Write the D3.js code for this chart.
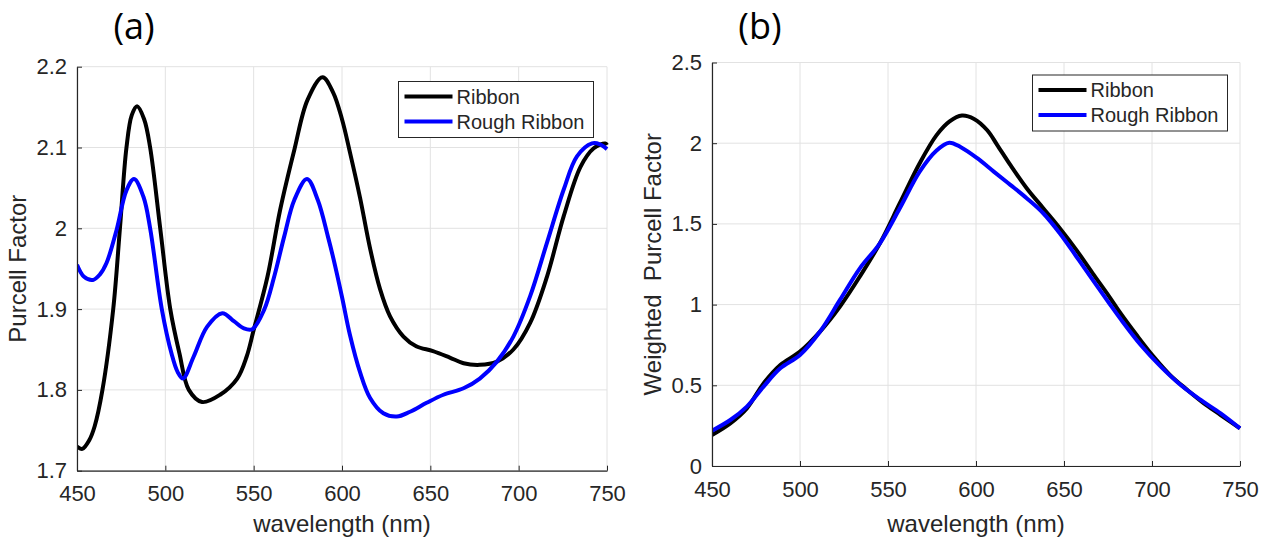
<!DOCTYPE html>
<html>
<head>
<meta charset="utf-8">
<script src="https://cdn.jsdelivr.net/npm/d3@7"></script>
<style>
  body { margin: 0; background: #fff; }
  svg { display: block; }
</style>
</head>
<body>
<svg id="chart" width="1268" height="540"></svg>
<script>
// panel (a): Purcell factor
const wlRibbonA = [450, 453, 457, 460, 464.4, 470.5, 474.3, 478, 481, 484, 488, 491.4, 497.1, 502.8, 508, 513.3,
  520.8, 531, 540.7, 546, 550, 557.8, 565, 573, 580.5, 589, 595, 600, 604.5, 610.2, 615.9, 621.5, 627.2,
  634.8, 642, 651.5, 661, 668.8, 678, 687.7, 697, 706.5, 716, 725.5, 735, 742.5, 749, 750];
const ribbonA = [1.730, 1.727, 1.738, 1.755, 1.800, 1.900, 2.000, 2.100, 2.140, 2.151, 2.135, 2.100, 2.000, 1.900, 1.845, 1.800,
  1.785, 1.794, 1.814, 1.841, 1.874, 1.940, 2.023, 2.097, 2.159, 2.187, 2.168, 2.135, 2.094, 2.038, 1.975, 1.925, 1.891,
  1.866, 1.854, 1.848, 1.840, 1.833, 1.831, 1.835, 1.850, 1.883, 1.940, 2.015, 2.076, 2.099, 2.105, 2.103];

const wlRoughA = [450, 454, 459, 463, 466.7, 472.4, 478, 482.3, 487.6, 491.4, 498, 503.5, 507, 510, 516, 523.6,
  532.2, 538.8, 544.5, 549.2, 555.9, 561.6, 567.3, 573, 580.2, 586.3, 592, 595.2, 600, 604.5, 610.2, 615.9,
  623.4, 631, 638.5, 647.9, 657.4, 668.8, 678, 687.7, 697, 706.5, 716, 725.5, 733, 741.5, 746, 750];
const roughA = [1.955, 1.940, 1.936, 1.943, 1.957, 1.998, 2.047, 2.061, 2.039, 2.000, 1.900, 1.845, 1.822, 1.814, 1.841, 1.878,
  1.895, 1.885, 1.876, 1.875, 1.899, 1.940, 1.990, 2.035, 2.061, 2.035, 1.990, 1.962, 1.915, 1.868, 1.822, 1.790,
  1.771, 1.767, 1.773, 1.784, 1.794, 1.802, 1.814, 1.835, 1.866, 1.916, 1.982, 2.048, 2.089, 2.105, 2.104, 2.098];

// panel (b): weighted Purcell factor
const wlRibbonB = [450, 460.4, 469.8, 479.3, 488.8, 500, 511.4, 522.7, 534, 545.4, 556.7, 568, 577.6, 585, 592,
  598.9, 606.4, 612, 619.5, 628.8, 638.2, 647.6, 657, 666.3, 675.7, 682.2, 691.7, 701.1, 710.6, 720.1, 729.5, 739, 750];
const ribbonB = [0.192, 0.264, 0.357, 0.512, 0.626, 0.709, 0.833, 0.988, 1.174, 1.380, 1.628, 1.876, 2.050, 2.135, 2.171,
  2.150, 2.080, 1.990, 1.865, 1.721, 1.597, 1.473, 1.339, 1.194, 1.050, 0.945, 0.805, 0.675, 0.560, 0.471, 0.388, 0.316, 0.233];

const wlRoughB = [450, 460.4, 469.8, 479.3, 488.8, 500, 511.4, 522.7, 534, 545.4, 556.7, 568, 577.6, 584.8, 591.4,
  600.7, 610.1, 619.5, 628.8, 638.2, 647.6, 657, 666.3, 675.7, 682.2, 693.6, 705, 716.3, 727.7, 739, 750];
const roughB = [0.219, 0.285, 0.368, 0.492, 0.605, 0.688, 0.833, 1.029, 1.225, 1.380, 1.597, 1.824, 1.955, 2.003, 1.975,
  1.907, 1.824, 1.742, 1.659, 1.566, 1.442, 1.298, 1.153, 1.008, 0.910, 0.750, 0.616, 0.502, 0.409, 0.326, 0.233];

const xTicks = [450, 500, 550, 600, 650, 700, 750];
const yTicksA = [1.7, 1.8, 1.9, 2.0, 2.1, 2.2];
const yTicksB = [0, 0.5, 1, 1.5, 2, 2.5];
const seriesNames = ["Ribbon", "Rough Ribbon"];
const seriesColors = ["#000000", "#0000ff"];

const svg = d3.select("#chart");
const textColor = "#262626";
const gridColor = "#e2e2e2";
const fmt = d3.format("~g");

function drawPanel(cfg) {
  const { left, right, top, bottom } = cfg.box;
  const x = d3.scaleLinear().domain([450, 750]).range([left, right]);
  const y = d3.scaleLinear().domain(cfg.yDomain).range([bottom, top]);
  const g = svg.append("g");

  // grid
  g.append("g").selectAll("line").data(xTicks).join("line")
    .attr("x1", d => x(d)).attr("x2", d => x(d))
    .attr("y1", top).attr("y2", bottom)
    .attr("stroke", gridColor).attr("stroke-width", 1);
  g.append("g").selectAll("line").data(cfg.yTicks).join("line")
    .attr("y1", d => y(d)).attr("y2", d => y(d))
    .attr("x1", left).attr("x2", right)
    .attr("stroke", gridColor).attr("stroke-width", 1);

  // curves
  const clipId = "clip-" + cfg.id;
  svg.append("clipPath").attr("id", clipId).append("rect")
    .attr("x", left).attr("y", top - 3).attr("width", right - left + 3).attr("height", bottom - top + 3);
  const line = d3.line().x(d => x(d[0])).y(d => y(d[1])).curve(d3.curveCatmullRom.alpha(0.5));
  cfg.series.forEach((s, i) => {
    g.append("path")
      .datum(s.wl.map((w, k) => [w, s.v[k]]))
      .attr("clip-path", `url(#${clipId})`)
      .attr("fill", "none")
      .attr("stroke", seriesColors[i])
      .attr("stroke-width", 4)
      .attr("stroke-linejoin", "round")
      .attr("d", line);
  });

  // axes
  const xAxis = g.append("g").attr("transform", `translate(0,${bottom})`)
    .call(d3.axisBottom(x).tickValues(xTicks).tickFormat(fmt).tickSizeInner(-5).tickSizeOuter(0).tickPadding(15));
  const yAxis = g.append("g").attr("transform", `translate(${left},0)`)
    .call(d3.axisLeft(y).tickValues(cfg.yTicks).tickFormat(fmt).tickSizeInner(-5).tickSizeOuter(0).tickPadding(10));
  [xAxis, yAxis].forEach(a => {
    a.attr("font-family", "'Liberation Sans', Arial, sans-serif").attr("font-size", 22);
    a.select(".domain").attr("stroke", textColor).attr("stroke-width", 1.2);
    a.selectAll(".tick line").attr("stroke", textColor);
    a.selectAll(".tick text").attr("fill", textColor);
  });

  // axis labels
  g.append("text")
    .attr("x", (left + right) / 2).attr("y", 532)
    .attr("text-anchor", "middle")
    .attr("font-family", "'Liberation Sans', Arial, sans-serif").attr("font-size", 24)
    .attr("fill", textColor)
    .text("wavelength (nm)");
  g.append("text")
    .attr("transform", `translate(${cfg.yLabelX},${(top + bottom) / 2}) rotate(-90)`)
    .attr("dy", "0.35em")
    .attr("text-anchor", "middle")
    .attr("font-family", "'Liberation Sans', Arial, sans-serif").attr("font-size", 24)
    .attr("fill", textColor)
    .style("white-space", "pre")
    .text(cfg.yLabel);

  // panel letter
  g.append("text")
    .attr("x", cfg.titleX).attr("y", 39)
    .attr("text-anchor", "middle")
    .attr("font-family", "'Open Sans', sans-serif").attr("font-size", 36)
    .attr("fill", "#000")
    .text(cfg.title);

  // legend
  const lg = g.append("g").attr("transform", `translate(${cfg.legend[0]},${cfg.legend[1]})`);
  lg.append("rect").attr("width", 195).attr("height", 56)
    .attr("fill", "#fff").attr("stroke", textColor).attr("stroke-width", 1);
  seriesNames.forEach((name, i) => {
    const yy = 15 + i * 25;
    lg.append("line").attr("x1", 6).attr("x2", 54).attr("y1", yy).attr("y2", yy)
      .attr("stroke", seriesColors[i]).attr("stroke-width", 4);
    lg.append("text").attr("x", 58).attr("y", yy).attr("dy", "0.35em")
      .attr("font-family", "'Liberation Sans', Arial, sans-serif").attr("font-size", 20)
      .attr("fill", textColor)
      .text(name);
  });
}

drawPanel({
  id: "a", title: "(a)", titleX: 134,
  box: { left: 77, right: 607, top: 66.7, bottom: 470.7 },
  yDomain: [1.7, 2.2], yTicks: yTicksA,
  yLabel: "Purcell Factor", yLabelX: 18,
  legend: [398.5, 81.5],
  series: [{ wl: wlRibbonA, v: ribbonA }, { wl: wlRoughA, v: roughA }]
});

drawPanel({
  id: "b", title: "(b)", titleX: 760,
  box: { left: 712, right: 1240, top: 62.5, bottom: 466 },
  yDomain: [0, 2.5], yTicks: yTicksB,
  yLabel: "Weighted  Purcell Factor", yLabelX: 653,
  legend: [1032.5, 75],
  series: [{ wl: wlRibbonB, v: ribbonB }, { wl: wlRoughB, v: roughB }]
});
</script>
</body>
</html>
